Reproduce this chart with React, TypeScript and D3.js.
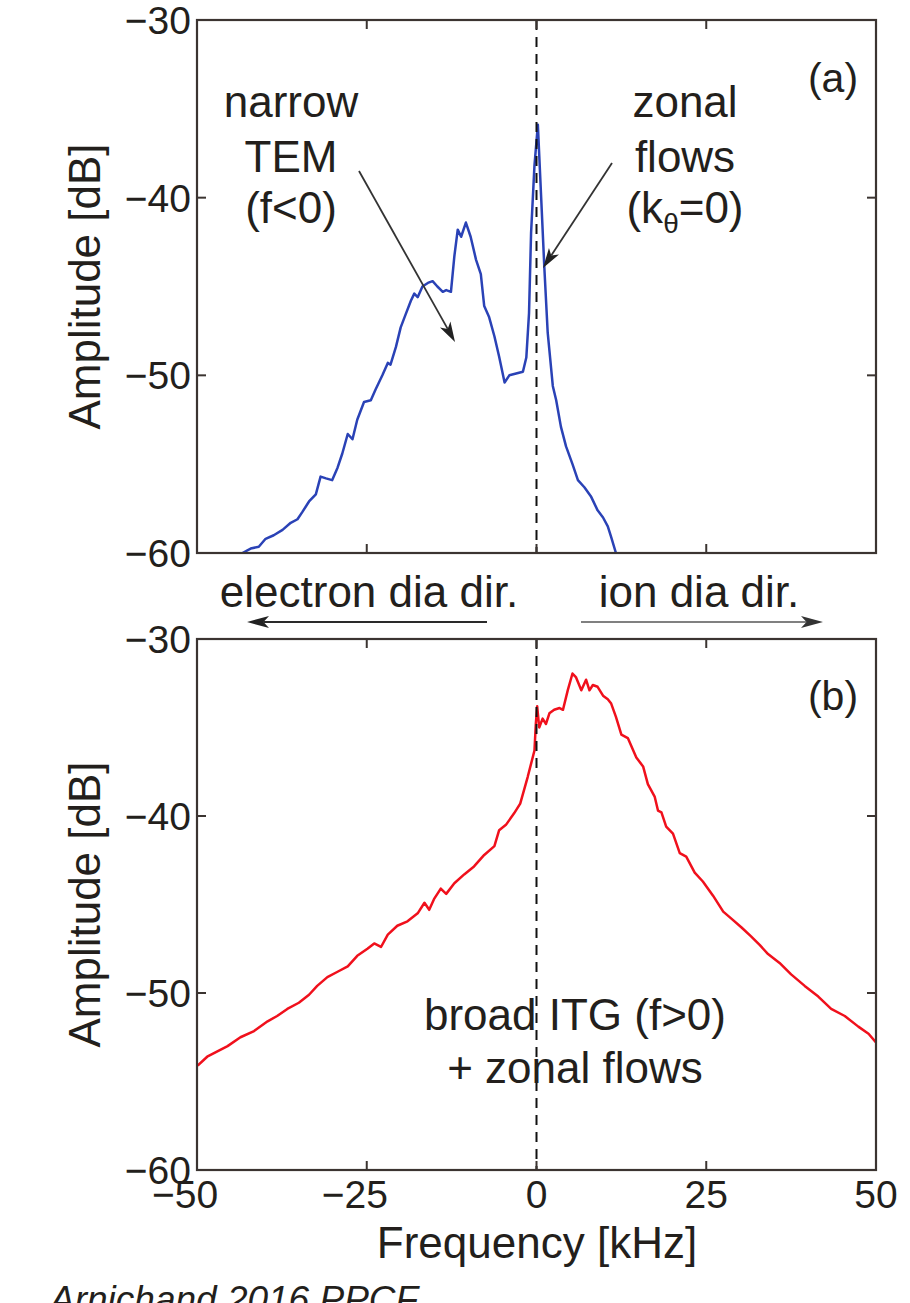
import React from "react";
import * as d3 from "d3";

// ---- data ----
const blueFreq = [
  -43.3, -42.1, -40.9, -39.9, -38.7, -37.4, -36.2, -35.2, -34.5, -33.5, -32.5, -31.8, -31.0, -30.1,
  -29.3, -28.6, -27.8, -27.1, -26.4, -25.4, -24.4, -23.7, -22.7, -21.9, -21.5, -20.7, -20.0, -19.3,
  -18.5, -18.0, -17.5, -16.8, -16.0, -15.3, -14.6, -13.8, -13.3, -12.6, -12.1, -11.6, -11.1, -10.4,
  -9.7, -8.9, -8.2, -7.7, -7.0, -6.2, -5.5, -4.7, -4.0, -3.0, -2.0, -1.5, -1.1, -0.8, -0.3, 0.2,
  0.7, 1.15, 1.65, 2.4, 2.9, 3.6, 4.35, 5.3, 6.1, 7.05, 8.0, 9.0, 9.8, 10.5, 11.0, 11.7,
];
const blueAmp = [
  -60.0, -59.75, -59.65, -59.2, -59.0, -58.7, -58.3, -58.1, -57.7, -57.1, -56.7, -55.7, -55.8, -55.9,
  -55.2, -54.4, -53.3, -53.6, -52.5, -51.5, -51.4, -50.8, -50.0, -49.3, -49.4, -48.4, -47.3, -46.6,
  -45.8, -45.4, -45.6, -45.0, -44.8, -44.7, -45.0, -45.3, -45.2, -45.3, -43.3, -41.8, -42.2, -41.4,
  -42.2, -43.5, -44.3, -46.1, -46.7, -47.8, -48.95, -50.4, -50.0, -49.9, -49.8, -49.0, -46.5, -42.0,
  -38.2, -35.9, -40.1, -43.9, -47.6, -50.6, -51.4, -52.9, -54.0, -55.0, -55.9, -56.3, -56.8, -57.6,
  -58.0, -58.5, -59.1, -60.0,
];

const redFreq = [
  -49.9, -48.5, -47.0, -45.5, -43.6, -41.6, -39.6, -38.2, -36.7, -35.0, -33.5, -32.3, -30.8, -29.3,
  -27.8, -26.4, -24.9, -23.9, -22.9, -21.9, -20.5, -19.0, -17.5, -16.5, -15.8, -15.1, -14.1, -13.3,
  -12.1, -10.65, -9.2, -7.7, -6.2, -5.5, -4.5, -3.3, -2.4, -1.3, -0.3, -0.1, 0.1, 0.4, 0.9, 1.4, 1.9,
  2.6, 3.4, 3.9, 4.6, 5.3, 5.8, 6.6, 7.3, 7.8, 8.3, 9.0, 9.8, 10.5, 11.0, 11.7, 12.5, 13.45, 14.7,
  15.7, 16.4, 17.4, 17.9, 18.4, 19.1, 20.1, 21.1, 22.05, 23.3, 24.5, 26.0, 27.5, 28.7, 30.2, 31.6,
  32.9, 34.1, 35.8, 37.5, 39.5, 41.5, 43.4, 45.4, 47.4, 48.9, 50.0,
];
const redAmp = [
  -54.1, -53.6, -53.3, -53.0, -52.5, -52.15, -51.6, -51.3, -50.9, -50.55, -50.1, -49.6, -49.1, -48.8,
  -48.5, -47.9, -47.5, -47.2, -47.4, -46.7, -46.2, -45.95, -45.5, -44.9, -45.3, -44.7, -44.1, -44.4,
  -43.8, -43.3, -42.85, -42.2, -41.7, -40.8, -40.5, -39.85, -39.3, -37.8, -36.3, -34.8, -33.8, -35.0,
  -34.5, -34.8, -34.2, -34.0, -33.9, -34.0, -32.9, -31.95, -32.15, -32.9, -32.3, -32.9, -32.6, -32.7,
  -33.2, -33.4, -33.65, -34.4, -35.4, -35.6, -36.7, -37.2, -38.2, -38.9, -39.7, -39.8, -40.6, -41.0,
  -42.1, -42.3, -43.2, -43.7, -44.5, -45.4, -45.8, -46.3, -46.8, -47.3, -47.8, -48.3, -48.95, -49.6,
  -50.2, -50.9, -51.3, -51.9, -52.3, -52.8,
];

const xTicks = [-50, -25, 0, 25, 50];
const yTicks = [-60, -50, -40, -30];
const xDomain: [number, number] = [-50, 50];
const yDomain: [number, number] = [-60, -30];

const FONT = "'Liberation Sans', Arial, Helvetica, sans-serif";
const INK = "#231f1c";
const FRAME = "#3b3431";

const x = d3.scaleLinear().domain(xDomain).range([197, 876]);
const yTop = d3.scaleLinear().domain(yDomain).range([553, 20]);
const yBot = d3.scaleLinear().domain(yDomain).range([1170, 639]);

const fmt = (v: number) => (v < 0 ? "\u2212" + Math.abs(v) : String(v));

function Arrow({ x1, y1, x2, y2, color = "#333", headColor = "#222", len = 20, half = 6 }: any) {
  const dx = x2 - x1, dy = y2 - y1;
  const L = Math.hypot(dx, dy);
  const ux = dx / L, uy = dy / L;
  const px = -uy, py = ux;
  const bx = x2 - ux * len, by = y2 - uy * len;
  const nx = x2 - ux * len * 0.75, ny = y2 - uy * len * 0.75;
  const pts = [
    [x2, y2],
    [bx + px * half, by + py * half],
    [nx, ny],
    [bx - px * half, by - py * half],
  ];
  return (
    <g>
      <line x1={x1} y1={y1} x2={nx} y2={ny} stroke={color} strokeWidth={1.8} />
      <polygon points={pts.map((p) => p.join(",")).join(" ")} fill={headColor} />
    </g>
  );
}

function Panel({ y, freq, amp, color, id, showX }: any) {
  const [yb, yt] = y.range();
  const x0 = x.range()[0], x1 = x.range()[1];
  const line = d3
    .line<number>()
    .x((_, i) => x(freq[i]))
    .y((v) => y(v));
  const tl = 9;
  return (
    <g>
      <defs>
        <clipPath id={id}>
          <rect x={x0} y={yt} width={x1 - x0} height={yb - yt} />
        </clipPath>
      </defs>
      <path d={line(amp) || ""} fill="none" stroke={color} strokeWidth={2.5} strokeLinejoin="round" clipPath={`url(#${id})`} />
      <line x1={x(0)} x2={x(0)} y1={yt} y2={yb} stroke="#111" strokeWidth={2} strokeDasharray="10,7" />
      <rect x={x0} y={yt} width={x1 - x0} height={yb - yt} fill="none" stroke={FRAME} strokeWidth={2.2} />
      {xTicks.slice(1, -1).map((t) => (
        <g key={"xt" + t}>
          <line x1={x(t)} x2={x(t)} y1={yb} y2={yb - tl} stroke={FRAME} strokeWidth={2} />
          <line x1={x(t)} x2={x(t)} y1={yt} y2={yt + tl} stroke={FRAME} strokeWidth={2} />
        </g>
      ))}
      {yTicks.slice(1, -1).map((t) => (
        <g key={"yt" + t}>
          <line x1={x0} x2={x0 + tl} y1={y(t)} y2={y(t)} stroke={FRAME} strokeWidth={2} />
          <line x1={x1} x2={x1 - tl} y1={y(t)} y2={y(t)} stroke={FRAME} strokeWidth={2} />
        </g>
      ))}
      {yTicks.map((t) => (
        <text key={"yl" + t} x={191} y={y(t) + 14} textAnchor="end" fontSize={39} fill={INK} fontFamily={FONT}>
          {fmt(t)}
        </text>
      ))}
      {showX &&
        xTicks.map((t) => (
          <text key={"xl" + t} x={x(t) + (t < 0 ? -12 : 0)} y={1208} textAnchor="middle" fontSize={39} fill={INK} fontFamily={FONT}>
            {fmt(t)}
          </text>
        ))}
      <text x={100} y={(yt + yb) / 2} transform={`rotate(-90 100 ${(yt + yb) / 2})`} textAnchor="middle" fontSize={44} fill={INK} fontFamily={FONT}>
        Amplitude [dB]
      </text>
    </g>
  );
}

export default function App() {
  return (
    <svg width={910} height={1303} style={{ position: "absolute", left: 0, top: 0, background: "#fff" }} fontFamily={FONT}>
      <rect x={0} y={0} width={910} height={1303} fill="#fff" />
      <Panel y={yTop} freq={blueFreq} amp={blueAmp} color="#2a42b6" id="clipA" showX={false} />
      <Panel y={yBot} freq={redFreq} amp={redAmp} color="#f0101c" id="clipB" showX={true} />

      {/* panel (a) annotations */}
      <text x={833} y={92} textAnchor="middle" fontSize={41} fill={INK}>(a)</text>
      <g fontSize={44} fill={INK} textAnchor="middle">
        <text x={291} y={117}>narrow</text>
        <text x={291} y={172}>TEM</text>
        <text x={291} y={223}>(f&lt;0)</text>
        <text x={685} y={117}>zonal</text>
        <text x={685} y={172}>flows</text>
        <text x={685} y={223}>
          (k<tspan fontSize={28} dy={10}>θ</tspan>
          <tspan dy={-10}>=0)</tspan>
        </text>
      </g>
      <Arrow x1={359} y1={171} x2={455} y2={342} color="#333" />
      <Arrow x1={612} y1={163} x2={543} y2={268} color="#333" />

      {/* direction labels */}
      <g fontSize={44} fill={INK} textAnchor="middle">
        <text x={369} y={607}>electron dia dir.</text>
        <text x={699} y={607}>ion dia dir.</text>
      </g>
      <Arrow x1={487} y1={622} x2={247} y2={622} color="#2a2a2a" headColor="#222" len={22} half={6} />
      <Arrow x1={581} y1={622} x2={823} y2={622} color="#808080" headColor="#333" len={22} half={6} />

      {/* panel (b) annotations */}
      <text x={833} y={710} textAnchor="middle" fontSize={41} fill={INK}>(b)</text>
      <g fontSize={44} fill={INK} textAnchor="middle">
        <text x={575} y={1030}>broad ITG (f&gt;0)</text>
        <text x={575} y={1083}>+ zonal flows</text>
      </g>

      <text x={537} y={1258} textAnchor="middle" fontSize={44} fill={INK}>Frequency [kHz]</text>
      <text x={50} y={1312} fontSize={37} fontStyle="italic" fill={INK}>Arnichand 2016 PPCF</text>
    </svg>
  );
}
